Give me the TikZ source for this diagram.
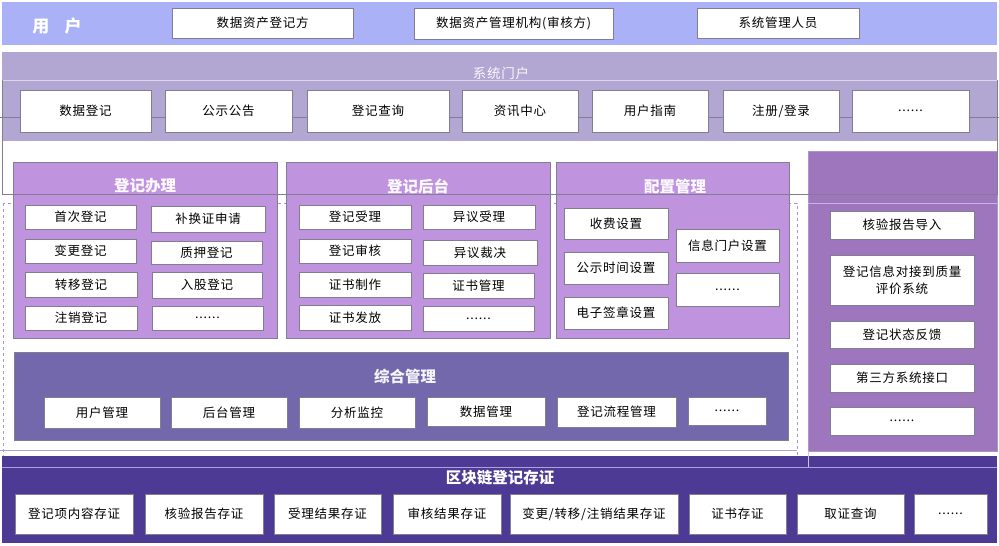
\documentclass[tikz,border=0pt]{standalone}
\usepackage{fontspec}
\newfontfamily\cjk{Noto Sans CJK SC}
\newfontfamily\cjkls[LetterSpace=6]{Noto Sans CJK SC}
\definecolor{userc}{RGB}{170,177,246}
\definecolor{portalc}{RGB}{178,166,210}
\definecolor{panelc}{RGB}{191,147,222}
\definecolor{rightc}{RGB}{157,118,190}
\definecolor{compc}{RGB}{115,104,172}
\definecolor{chainc}{RGB}{77,58,148}
\definecolor{bgray}{RGB}{130,126,145}
\definecolor{dashc}{RGB}{170,145,220}
\definecolor{lpurp}{RGB}{175,160,225}
\newcommand\bx[7][box]{\node[#1, minimum width={(#5-#3)*1pt}, minimum height={(#6-#4)*1pt}] (#2) at ({(#3+#5)/2},{(#4+#6)/2}) {#7};}
\begin{document}
\begin{tikzpicture}[x=1pt,y=-1pt,
  box/.style={draw=bgray, fill=white, line width=0.7pt, inner sep=0pt, align=center, font=\cjkls\fontsize{12.5}{17}\selectfont},
  panel/.style={draw=bgray, line width=0.7pt, inner sep=0pt},
  ttl/.style={font=\cjk\bfseries\fontsize{15.5}{18}\selectfont, text=white!94!panelc, inner sep=0pt},
  thin/.style={draw=bgray, line width=0.6pt}]
\useasboundingbox (0,0) rectangle (999,546);
% user band
\fill[userc] (2,2) rectangle (997,45);
\node[ttl, text=white, font=\cjk\bfseries\fontsize{17}{20}\selectfont] (ut) at (57,26) {用\hspace{0.9em}户};
\bx{u1}{172}{8}{353}{38}{数据资产登记方}
\bx{u2}{414}{8}{613}{39}{数据资产管理机构(审核方)}
\bx{u3}{697}{8}{859}{38}{系统管理人员}
% portal band
\fill[portalc] (2,52) rectangle (997,141);
\node[inner sep=0pt, text=white!92!portalc, font=\cjkls\fontsize{13.5}{16}\selectfont] (pt) at (501,73) {系统门户};
\draw[white!55!portalc, line width=0.6pt] (2,80) -- (997,80);
\coordinate (pl) at (0,117);
\coordinate (pr) at (999,117);
\draw[thin] (pl) -- (pr);
% dashed frame
\draw[dashc, dashed, line width=0.6pt] (3,203) rectangle (797,466);
% panels
\bx[panel, fill=panelc]{pa}{13}{162}{277}{338}{}
\bx[panel, fill=panelc]{pb}{286}{162}{550}{338}{}
\bx[panel, fill=panelc]{pc}{556}{162}{789}{338}{}
\bx[panel, draw=rightc!80!white, fill=rightc]{pd}{808}{151}{997}{451}{}
\node[ttl] (ta) at (145,186) {登记办理};
\node[ttl] (tb) at (418,186) {登记后台};
\node[ttl] (tc) at (675,187) {配置管理};
% frame lines
\draw[thin] (2,80) -- (2,194) -- (997,194) -- (997,80);
\draw[white!45!rightc, line width=0.6pt] (808,203) -- (997,203);
% portal boxes
\bx{p1}{20}{90}{151}{132}{数据登记}
\bx{p2}{165}{90}{292}{132}{公示公告}
\bx{p3}{307}{90}{449}{132}{登记查询}
\bx{p4}{462}{90}{578}{132}{资讯中心}
\bx{p5}{592}{90}{708}{132}{用户指南}
\bx{p6}{723}{90}{839}{132}{注册/登录}
\bx{p7}{852}{90}{969}{132}{......}
% 登记办理
\bx{a1}{25}{205}{136}{229}{首次登记}
\bx{a2}{25}{239}{136}{263}{变更登记}
\bx{a3}{25}{272}{137}{297}{转移登记}
\bx{a4}{25}{306}{137}{330}{注销登记}
\bx{a5}{151}{206}{265}{232}{补换证申请}
\bx{a6}{151}{241}{262}{264}{质押登记}
\bx{a7}{152}{272}{262}{298}{入股登记}
\bx{a8}{152}{306}{263}{330}{......}
% 登记后台
\bx{b1}{299}{205}{411}{229}{登记受理}
\bx{b2}{299}{239}{411}{263}{登记审核}
\bx{b3}{299}{272}{411}{297}{证书制作}
\bx{b4}{299}{305}{411}{330}{证书发放}
\bx{b5}{423}{205}{535}{229}{异议受理}
\bx{b6}{423}{240}{537}{265}{异议裁决}
\bx{b7}{423}{273}{534}{298}{证书管理}
\bx{b8}{423}{306}{534}{331}{......}
% 配置管理
\bx{c1}{564}{208}{668}{239}{收费设置}
\bx{c2}{564}{252}{668}{284}{公示时间设置}
\bx{c3}{564}{297}{668}{329}{电子签章设置}
\bx{c4}{676}{229}{779}{262}{信息门户设置}
\bx{c5}{676}{273}{779}{306}{......}
% right panel
\bx{d1}{830}{211}{974}{239}{核验报告导入}
\bx{d2}{830}{255}{974}{305}{登记信息对接到质量\\评价系统}
\bx{d3}{830}{321}{974}{348}{登记状态反馈}
\bx{d4}{830}{364}{974}{392}{第三方系统接口}
\bx{d5}{830}{407}{974}{435}{......}
% 综合管理
\bx[panel, fill=compc]{pe}{14}{352}{788}{440}{}
\node[ttl, text=white!92!compc] (te) at (405,377) {综合管理};
\bx{e1}{44}{397}{160}{428}{用户管理}
\bx{e2}{171}{397}{287}{428}{后台管理}
\bx{e3}{299}{397}{415}{428}{分析监控}
\bx{e4}{427}{397}{545}{426}{数据管理}
\bx{e5}{557}{397}{676}{427}{登记流程管理}
\bx{e6}{688}{397}{766}{425}{......}
% lines near bottom
\draw[lpurp, line width=0.6pt] (0,450) -- (797,450);
% blockchain band
\fill[chainc] (2,456) rectangle (997,543);
\draw[white!55!rightc, line width=0.5pt] (808,451) -- (808,467);
\draw[lpurp, line width=0.8pt] (2,467) -- (997,467);
\node[ttl, text=white] (tf) at (500,478) {区块链登记存证};
\bx{f1}{15}{494}{133}{534}{登记项内容存证}
\bx{f2}{145}{494}{263}{534}{核验报告存证}
\bx{f3}{274}{494}{381}{534}{受理结果存证}
\bx{f4}{393}{494}{501}{534}{审核结果存证}
\bx{f5}{510}{494}{678}{534}{变更/转移/注销结果存证}
\bx{f6}{689}{494}{786}{534}{证书存证}
\bx{f7}{797}{494}{904}{534}{取证查询}
\bx{f8}{914}{494}{987}{534}{......}
\end{tikzpicture}
\end{document}
